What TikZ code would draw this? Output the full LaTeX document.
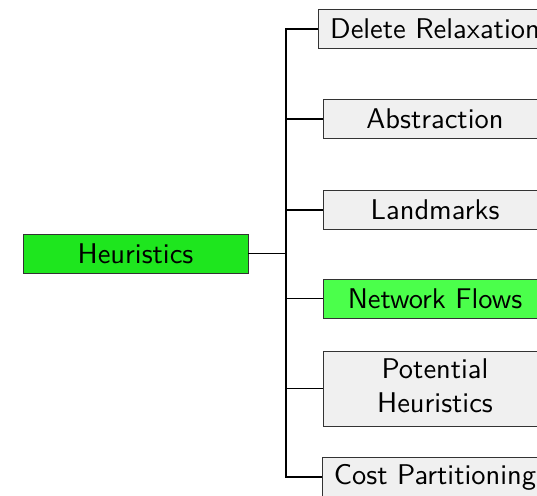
\documentclass[tikz,border=0pt]{standalone}
\begin{document}
\begin{tikzpicture}[x=1pt,y=1pt,
  box/.style={draw=black!80, line width=0.9pt, fill=black!6, minimum height=39pt, minimum width=224pt, inner xsep=11.5pt, inner ysep=0pt, align=center},
  root/.style={box, fill=rootgreen, minimum width=225pt},
  hot/.style={box, fill=hotgreen},
  conn/.style={draw=black, line width=1.2pt}]
\definecolor{rootgreen}{RGB}{30,230,30}
\definecolor{hotgreen}{RGB}{75,255,75}
\useasboundingbox (0,0) rectangle (537,495);
\clip (0,0) rectangle (537,495);
\newcommand{\txt}[1]{\scalebox{2.85}{\sffamily\fontsize{10}{12}\selectfont #1}}
\node[root] (h) at (135.5,241.5) {\txt{Heuristics}};
\coordinate (j) at (286,241.5);
\node[box] (c1) at (435,466) {\txt{Delete Relaxation}};
\node[box] (c2) at (435,376) {\txt{Abstraction}};
\node[box] (c3) at (435,285) {\txt{Landmarks}};
\node[hot] (c4) at (435,196.5) {\txt{Network Flows}};
\node[box, minimum height=75pt] (c5) at (435,106.5) {\txt{\begin{tabular}{@{}c@{}}Potential\\Heuristics\end{tabular}}};
\node[box] (c6) at (435,18) {\txt{Cost Partitioning}};
\draw[conn] (h.east) -- (j);
\foreach \c in {c1,c2,c3,c4,c5,c6} \draw[conn] (j) |- (\c.west);
\end{tikzpicture}
\end{document}
